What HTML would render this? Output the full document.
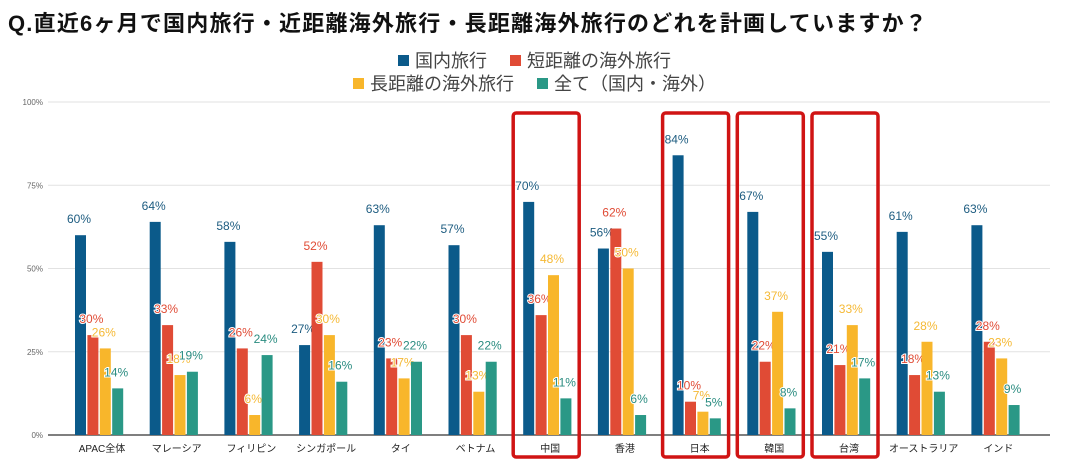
<!DOCTYPE html>
<html><head><meta charset="utf-8">
<style>
html,body{margin:0;padding:0;background:#fff;}
body{width:1069px;height:474px;overflow:hidden;position:relative;font-family:"Liberation Sans","Noto Sans CJK JP",sans-serif;}
#title{position:absolute;left:8px;top:6px;font-size:22px;letter-spacing:1.2px;font-weight:bold;color:#111;white-space:nowrap;}
.leg{position:absolute;left:0;width:1069px;text-align:center;font-size:18px;color:#444;white-space:nowrap;}
.sw{display:inline-block;width:11px;height:11px;margin-right:6px;vertical-align:1px;}
.li{margin:0 9px;}
</style></head><body>
<div id="title">Q.直近6ヶ月で国内旅行・近距離海外旅行・長距離海外旅行のどれを計画していますか？</div>
<div class="leg" style="top:47px">
<span class="li"><span class="sw" style="background:#0b5a8a"></span>国内旅行</span>
<span class="li"><span class="sw" style="background:#e04b35"></span>短距離の海外旅行</span>
</div>
<div class="leg" style="top:70px">
<span class="li"><span class="sw" style="background:#f8b62b"></span>長距離の海外旅行</span>
<span class="li"><span class="sw" style="background:#2a9886"></span>全て（国内・海外）</span>
</div>
<svg id="chart" width="1069" height="474" style="position:absolute;left:0;top:0"></svg>
<script>
const categories=["APAC全体","マレーシア","フィリピン","シンガポール","タイ","ベトナム","中国","香港","日本","韓国","台湾","オーストラリア","インド"];
const domestic=[60,64,58,27,63,57,70,56,84,67,55,61,63];
const shortHaul=[30,33,26,52,23,30,36,62,10,22,21,18,28];
const longHaul=[26,18,6,30,17,13,48,50,7,37,33,28,23];
const allTravel=[14,19,24,16,22,22,11,6,5,8,17,13,9];
const yTicks=[0,25,50,75,100];
const highlighted=["中国","日本","韓国","台湾"];

const svg=document.getElementById('chart');
const NS="http://www.w3.org/2000/svg";
const y0=435,y100=102,xL=48,xR=1050;
const yS=v=>y0-(y0-y100)*v/100;
const xC=i=>99+i*74.7;
function mk(t,a,p){const e=document.createElementNS(NS,t);for(const k in a)e.setAttribute(k,a[k]);(p||svg).appendChild(e);return e;}
yTicks.forEach(t=>{
  const l=mk('line',{x1:xL,x2:xR,y1:yS(t),y2:yS(t),stroke:t===0?'#555':'#e2e2e2','stroke-width':t===0?1.5:1});
  
  
  const tx=mk('text',{x:43,y:yS(t)+3,'text-anchor':'end','font-size':8,fill:'#666'});
  tx.textContent=t+'%';
  
  
});
const series=[[domestic,'#0b5a8a','#1d5c80','domestic'],[shortHaul,'#e04b35','#e04b35','short'],[longHaul,'#f8b62b','#f5b935','long'],[allTravel,'#2a9886','#2a8c80','all']];
categories.forEach((c,i)=>{
  series.forEach((s,j)=>{
    const v=s[0][i];const bx=xC(i)-24+j*12.4;
    const r=mk('rect',{x:bx,y:yS(v),width:11,height:y0-yS(v),fill:s[1]});
    
    
    const t=mk('text',{x:bx+4,y:yS(v)-12,'text-anchor':'middle','font-size':12,fill:s[2],stroke:'#fff','stroke-width':2,'paint-order':'stroke'});
    t.textContent=v+'%';
    
    
  });
  const lt=mk('text',{x:xC(i)+3,y:452,'text-anchor':'middle','font-size':10,fill:'#222'});
  lt.textContent=c;
  
  
  if(highlighted.includes(c)){
    const b=mk('rect',{x:xC(i)-34,y:113,width:66,height:344,rx:3,fill:'none',stroke:'#d01414','stroke-width':3.5});
    
    
  }
});
</script>
</body></html>
